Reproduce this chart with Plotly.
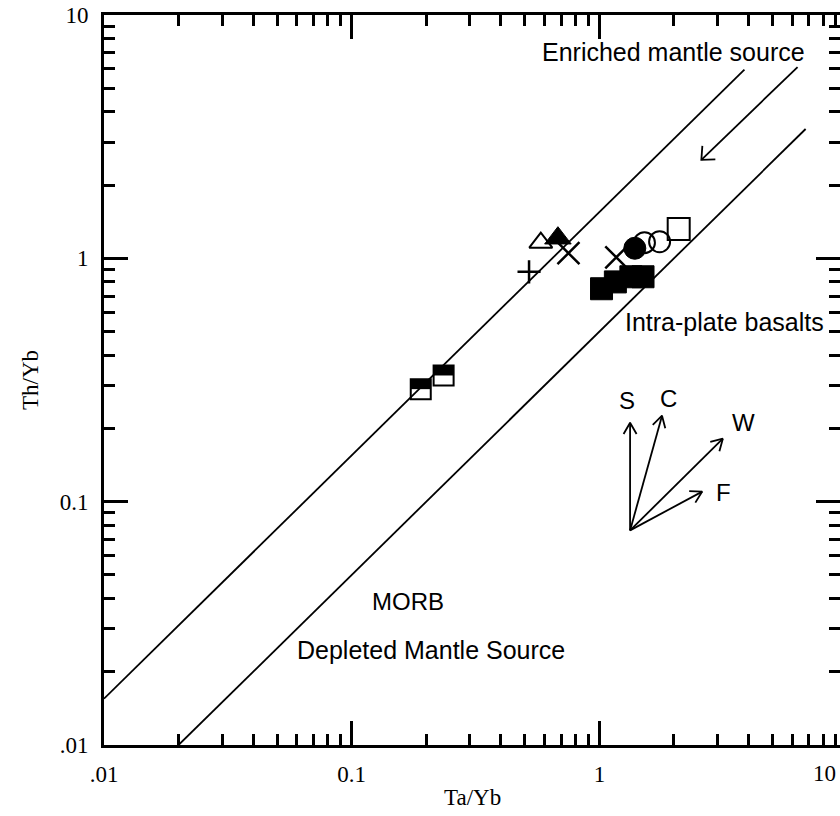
import numpy as np
import plotly.graph_objects as go

# ---------------- data (Ta/Yb, Th/Yb) ----------------
half_sq_ta = [0.19, 0.235]
half_sq_th = [0.29, 0.33]
plus_ta = [0.52]
plus_th = [0.88]
open_tri_ta = [0.58]
open_tri_th = [1.16]
fill_tri_ta = [0.68]
fill_tri_th = [1.21]
cross_ta = [0.75, 1.17]
cross_th = [1.05, 1.01]
fill_circ_ta = [1.39]
fill_circ_th = [1.10]
open_circ_ta = [1.52, 1.75]
open_circ_th = [1.16, 1.17]
open_sq_ta = [2.09]
open_sq_th = [1.32]
fill_sq_ta = [1.02, 1.16, 1.34, 1.50]
fill_sq_th = [0.75, 0.80, 0.84, 0.84]

# mantle array boundaries: Th/Yb = k * Ta/Yb
upper_ta = [0.01, 3.85]
upper_k = 1.55
lower_ta = [0.02, 6.8]
lower_k = 0.5

# enrichment arrow (tail -> head)
enrich_arrow_ta = [6.31, 2.58]
enrich_arrow_th = [6.11, 2.54]

# process vectors from a common origin
vec_origin = (1.33, 0.0762)
vec_names = ["S", "C", "W", "F"]
vec_tip_ta = [1.33, 1.79, 3.15, 2.60]
vec_tip_th = [0.211, 0.2255, 0.1815, 0.110]

x_tickvals = [0.01, 0.1, 1]
x_ticktext = [".01", "0.1", "1"]
y_tickvals = [0.01, 0.1, 1, 10]
y_ticktext = [".01", "0.1", "1", "10"]
minor_vals = [k * 10.0 ** n for n in (-2, -1, 0) for k in range(2, 10)]

# ---------------- layout geometry ----------------
W, H = 840, 816
ML, MT, MB, MR = 104, 15, 71, 0
PW, PH = W - ML - MR, H - MT - MB
X_RANGE = [-2, -2 + PW / 247.7]
Y_RANGE = [-2, 1]
SX = PW / (X_RANGE[1] - X_RANGE[0])
SY = PH / (Y_RANGE[1] - Y_RANGE[0])

def px(xp):
    return (xp - ML) / PW

def py(yp):
    return (MT + PH - yp) / PH

def head(x0, y0, x1, y1, L=13, ang=32):
    X0, Y0 = np.log10(x0) * SX, np.log10(y0) * SY
    X1, Y1 = np.log10(x1) * SX, np.log10(y1) * SY
    d = np.array([X1 - X0, Y1 - Y0])
    d = d / np.hypot(*d)
    pts = []
    for s in (1, -1):
        a = np.radians(ang * s)
        r = np.array([d[0] * np.cos(a) - d[1] * np.sin(a), d[0] * np.sin(a) + d[1] * np.cos(a)])
        pts.append((X1 - L * r[0], Y1 - L * r[1]))
    xs = [10 ** (pts[0][0] / SX), x1, 10 ** (pts[1][0] / SX)]
    ys = [10 ** (pts[0][1] / SY), y1, 10 ** (pts[1][1] / SY)]
    return xs, ys

fig = go.Figure()
BLK = "black"

def line(xs, ys, w=1.8):
    fig.add_trace(go.Scatter(x=xs, y=ys, mode="lines", line=dict(color=BLK, width=w),
                             hoverinfo="skip", showlegend=False))

line(upper_ta, [upper_k * v for v in upper_ta])
line(lower_ta, [lower_k * v for v in lower_ta])

# enrichment arrow
line(enrich_arrow_ta, enrich_arrow_th, 1.8)
hx, hy = head(enrich_arrow_ta[0], enrich_arrow_th[0], enrich_arrow_ta[1], enrich_arrow_th[1], L=14, ang=42)
line(hx, hy, 1.8)

# vectors
for tx, ty in zip(vec_tip_ta, vec_tip_th):
    line([vec_origin[0], tx], [vec_origin[1], ty], 1.8)
    hx, hy = head(vec_origin[0], vec_origin[1], tx, ty, L=13, ang=30)
    line(hx, hy, 1.8)

def pts(xs, ys, symbol, size, lw=2, color=BLK):
    fig.add_trace(go.Scatter(x=xs, y=ys, mode="markers", showlegend=False,
                             marker=dict(symbol=symbol, size=size, color=color,
                                         line=dict(color=BLK, width=lw))))

# half-filled squares: open square with top half black
pts(half_sq_ta, half_sq_th, "square-open", 20, 2)
band_shift = 10 ** (5 / SY)
pts(half_sq_ta, [v * band_shift for v in half_sq_th], "line-ew", 14, 10)

pts(fill_sq_ta, fill_sq_th, "square", 22, 1)
pts(plus_ta, plus_th, "cross-thin", 16.5, 2.5)
pts(open_tri_ta, open_tri_th, "triangle-up-open", 20, 2)
pts(fill_tri_ta, fill_tri_th, "triangle-up", 23, 1)
pts(cross_ta, cross_th, "x-thin", 22, 2.5)
pts(fill_circ_ta, fill_circ_th, "circle", 22, 1)
pts(open_circ_ta, open_circ_th, "circle-open", 21, 2)
pts(open_sq_ta, open_sq_th, "square-open", 22, 2)

serif = dict(family="Liberation Serif", size=23, color=BLK)
sans = dict(family="Liberation Sans", size=25, color=BLK)

axis_common = dict(
    type="log", showgrid=False, zeroline=False,
    showline=True, linecolor=BLK, linewidth=3, mirror="ticks",
    ticks="inside", ticklen=24, tickwidth=2.5, tickcolor=BLK,
    tickfont=serif,
    minor=dict(tickvals=minor_vals, ticks="inside", ticklen=11, tickwidth=2.5,
               tickcolor=BLK, showgrid=False),
)

fig.update_layout(
    width=W, height=H, margin=dict(l=ML, r=MR, t=MT, b=MB, autoexpand=False),
    paper_bgcolor="white", plot_bgcolor="white",
    xaxis=dict(range=X_RANGE, tickvals=x_tickvals, ticktext=x_ticktext,
               ticklabelstandoff=6, **axis_common),
    yaxis=dict(range=Y_RANGE, tickvals=y_tickvals, ticktext=y_ticktext,
               ticklabelstandoff=8, **axis_common),
)

ann = []
def txt(text, xp, yp, font, xanchor="center", angle=0):
    ann.append(dict(text=text, x=px(xp), y=py(yp), xref="paper", yref="paper",
                    xanchor=xanchor, yanchor="middle", showarrow=False,
                    font=font, textangle=angle))

txt("10", 838, 773, serif, xanchor="right")
txt("Ta/Yb", 472, 797, serif)
txt("Th/Yb", 30, 380, serif, angle=-90)
txt("Enriched mantle source", 807, 52, sans, xanchor="right")
txt("Intra-plate basalts", 623, 322, sans, xanchor="left")
txt("MORB", 408, 601, dict(family="Liberation Sans", size=24, color=BLK))
txt("Depleted Mantle Source", 295, 650, sans, xanchor="left")
vec_font = dict(family="Liberation Sans", size=24, color=BLK)
for name, (xp, yp) in zip(vec_names, [(627, 400), (668, 398), (743, 422), (723, 492)]):
    txt(name, xp, yp, vec_font)

fig.update_layout(annotations=ann)
fig.write_html("out.html")
